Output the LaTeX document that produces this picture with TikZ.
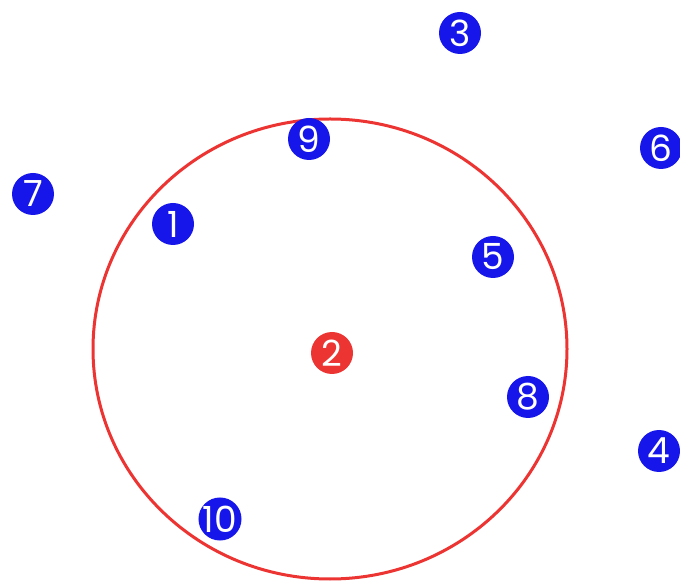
\documentclass[tikz,border=0pt]{standalone}
\usepackage{fontspec}
\setmainfont{Poppins}
\usepackage{xcolor}
\usepackage{tikz}
\usetikzlibrary{positioning}
\definecolor{dotblue}{RGB}{22,22,235}
\definecolor{ringred}{RGB}{236,52,50}

\begin{document}
\begin{tikzpicture}[
  x=0.5pt, y=-0.5pt, font=\fontsize{18}{18}\selectfont,
  numdot/.style={circle, fill=dotblue, text=white, minimum size=21pt, inner sep=0pt},
  ring/.style={draw=ringred, line width=1.5pt}
]
\useasboundingbox (0,0) rectangle (680,582);
\draw[ring] (330,349) ellipse [x radius=237, y radius=230];
\node[numdot] (n1) at (173,224) {1};
\node[numdot,fill=ringred] (n2) at (332,353) {2};
\node[numdot] (n3) at (460,33) {3};
\node[numdot] (n4) at (659,451) {4};
\node[numdot] (n5) at (493,257) {5};
\node[numdot] (n6) at (661,148) {6};
\node[numdot] (n7) at (33,194) {7};
\node[numdot] (n8) at (528,397) {8};
\node[numdot] (n9) at (309,139) {9};
\node[numdot] (n10) at (220,519) {10};
\end{tikzpicture}
\end{document}
